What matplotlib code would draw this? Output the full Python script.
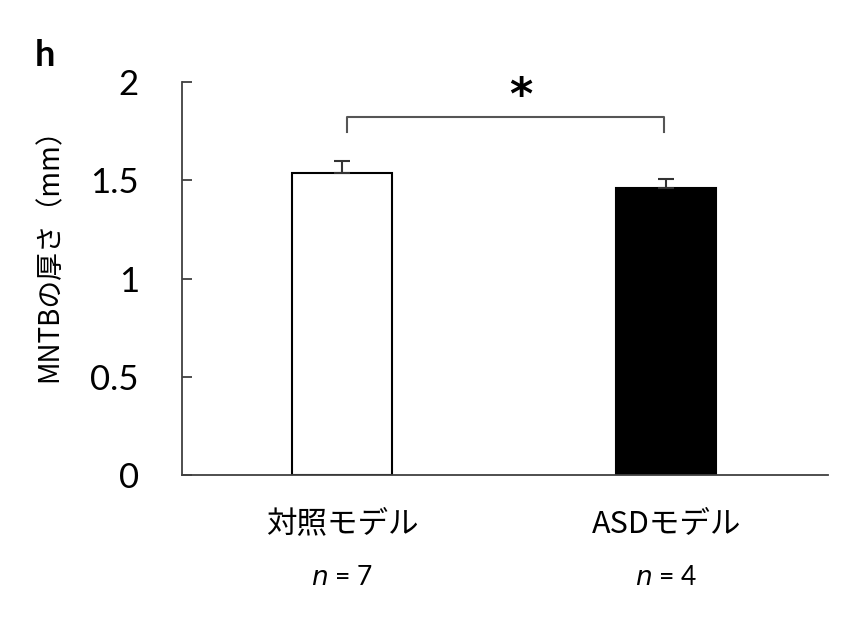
import matplotlib
matplotlib.use("Agg")
import matplotlib.pyplot as plt

# data
groups = ["対照モデル", "ASDモデル"]
n_labels = ["7", "4"]
means = [1.537, 1.46]
errors = [0.06, 0.046]
bar_colors = ["white", "black"]
yticks = [0, 0.5, 1, 1.5, 2]
ytick_labels = ["0", "0.5", "1", "1.5", "2"]

plt.rcParams['font.family'] = ['Noto Sans CJK JP', 'DejaVu Sans']

fig = plt.figure(figsize=(8.52, 6.24), dpi=100)
ax = fig.add_axes([182 / 852, 1 - 475 / 624, (828 - 182) / 852, (475 - 82) / 624])

x = [0, 1]
ax.bar(x, means, width=0.31, color=bar_colors, edgecolor="black", linewidth=1.5, zorder=2)
ax.errorbar(x, means, yerr=[[0, 0], errors], fmt="none", ecolor="#333333",
            elinewidth=1.5, capsize=6, capthick=1.5, zorder=3)

ax.set_xlim(-0.495, 1.5)
ax.set_ylim(0, 2)
ax.set_yticks(yticks)
ax.set_yticklabels(ytick_labels, family=["Lato", "DejaVu Sans"], fontsize=25)
ax.set_xticks([])
ax.tick_params(axis="y", direction="in", length=7, width=1.3, color="#404040", pad=31)
for side in ["top", "right"]:
    ax.spines[side].set_visible(False)
for side in ["left", "bottom"]:
    ax.spines[side].set_color("#404040")
    ax.spines[side].set_linewidth(1.3)

# significance bracket
y_top = 1.82
y_end = 1.745
ax.plot([0.015, 0.015, 0.995, 0.995], [y_end, y_top, y_top, y_end],
        color="#555555", linewidth=1.5, clip_on=False)
ax.text(0.55, 1.925, "*", ha="center", va="center", fontsize=32, fontweight="bold",
        family=["DejaVu Sans"], clip_on=False)

# category labels and n
for xi, g, n in zip(x, groups, n_labels):
    ax.text(xi, -0.245, g, ha="center", va="center", fontsize=22,
            transform=ax.transData, clip_on=False)
    ax.text(xi, -0.52, "$\\it{n}$ = " + n, ha="center", va="center", fontsize=19,
            family=["Lato", "DejaVu Sans"], transform=ax.transData, clip_on=False)

fig.text(50 / 852, 1 - 248 / 624, "MNTBの厚さ（mm）", rotation=90, ha="center",
         va="center", fontsize=20)
fig.text(45 / 852, 1 - 55 / 624, "h", ha="center", va="center", fontsize=26,
         fontweight="bold", family=["Lato", "DejaVu Sans"])

fig.savefig("out.png", dpi=100)
